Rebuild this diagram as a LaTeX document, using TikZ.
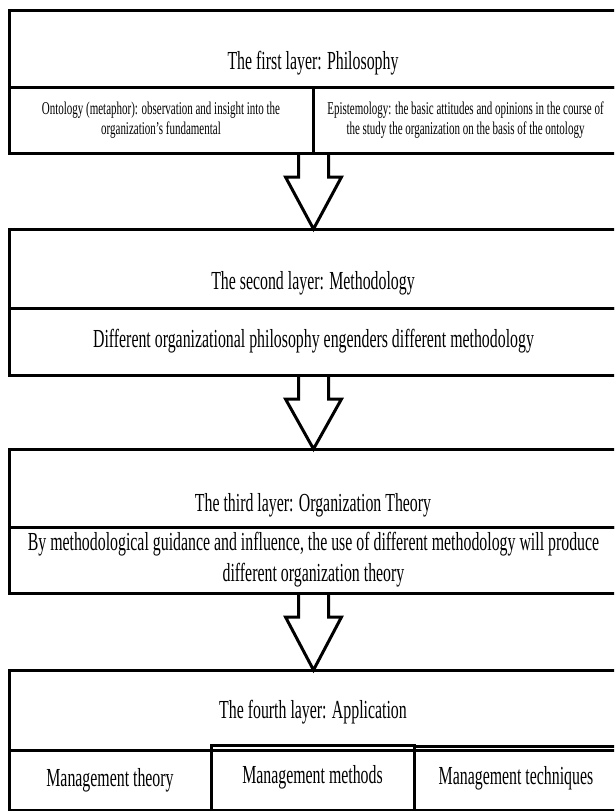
\documentclass[tikz,border=0pt]{standalone}
\usepackage{fontspec}
\setmainfont{Liberation Serif}[FakeStretch=0.61]
\usepackage{tikz}
\usetikzlibrary{calc}
\tikzset{
  cell/.style={draw, line width=3pt, anchor=north west, inner sep=0pt, outer sep=0pt, align=center},
  big/.style={font=\fontsize{26}{31}\selectfont},
  small/.style={font=\fontsize{18}{20}\selectfont},
  blockarrow/.style={draw, line width=3pt, line join=miter}
}

\begin{document}
\begin{tikzpicture}[x=1pt, y=-1pt]
            \useasboundingbox (0,0) rectangle (614,811);
            \clip (0,0) rectangle (614,811);

            % first layer
            \node [cell, minimum width=609pt, minimum height=77pt] (t1) at (9,10) {};
            \node [big] (h1) at (313,63) {The first layer: Philosophy};
            \node [cell, small, minimum width=304pt, minimum height=66pt] (c11) at (9,87)
                  {Ontology (metaphor): observation and insight into the\\organization's fundamental};
            \node [cell, small, minimum width=305pt, minimum height=66pt] (c12) at (313,87)
                  {Epistemology: the basic attitudes and opinions in the course of\\the study the organization on the basis of the ontology};

            % second layer
            \node [cell, minimum width=609pt, minimum height=79pt] (t2) at (9,229) {};
            \node [big] (h2) at (313,283) {The second layer: Methodology};
            \node [cell, big, minimum width=609pt, minimum height=67pt] (c21) at (9,308)
                  {Different organizational philosophy engenders different methodology};

            % third layer
            \node [cell, minimum width=609pt, minimum height=78pt] (t3) at (9,449) {};
            \node [big] (h3) at (313,505) {The third layer: Organization Theory};
            \node [cell, big, minimum width=609pt, minimum height=66pt] (c31) at (9,527)
                  {By methodological guidance and influence, the use of different methodology will produce\\different organization theory};

            % fourth layer
            \node [cell, minimum width=609pt, minimum height=80pt] (t4) at (9,670) {};
            \node [big] (h4) at (313,712) {The fourth layer: Application};
            \node [cell, big, minimum width=202pt, minimum height=60pt] (c41) at (9,750) {Management theory};
            \node [cell, big, minimum width=203pt, minimum height=65pt] (c42) at (211,745) {Management methods};
            \node [cell, big, minimum width=204pt, minimum height=64pt] (c43) at (414,746) {Management techniques};

            % hollow arrows between the layers
            \foreach \u/\v in {c11/t2, c21/t3, c31/t4} {
                \coordinate (s) at (\u.south -| \v.north);
                \draw [blockarrow] ($(s)+(-15,0)$) -- ($(s)+(-15,24)$) -- ($(s)+(-28,24)$) -- (\v.north)
                      -- ($(s)+(28,24)$) -- ($(s)+(15,24)$) -- ($(s)+(15,0)$);
            }

\end{tikzpicture}
\end{document}
